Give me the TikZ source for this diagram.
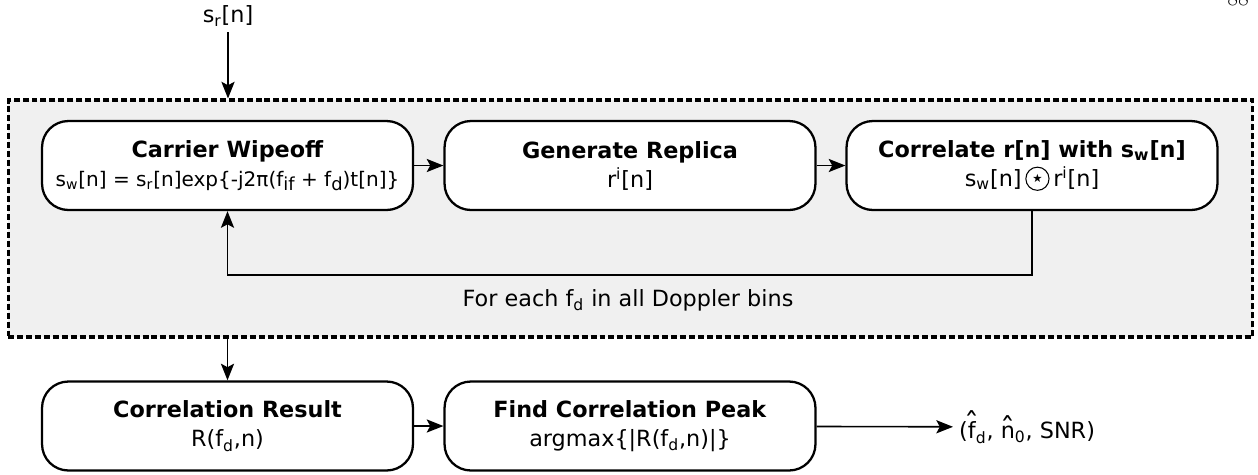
\documentclass[tikz,border=0pt]{standalone}
\usepackage{fontspec}
\setsansfont{DejaVu Sans}
\usetikzlibrary{arrows.meta}
\definecolor{loopgray}{RGB}{240,240,240}
\tikzset{
	block/.style={draw, line width=1.3pt, rounded corners=15pt, fill=white, align=center,
		minimum width=7.42cm, minimum height=1.78cm, inner sep=2pt,
		font=\sffamily\fontsize{12.7}{16.5}\selectfont},
	loopbox/.style={draw, fill=loopgray, line width=1.8pt, dash pattern=on 3.4pt off 1.7pt,
		minimum width=24.9cm, minimum height=4.74cm},
	flow/.style={line width=0.9pt, -{Stealth[length=9.5pt,width=7.5pt,inset=2pt]}},
	lbl/.style={font=\sffamily\fontsize{12.7}{16.5}\selectfont}
}
\newcommand{\hd}[1]{\textbf{#1}}
\newcommand{\lowsub}[1]{\raisebox{-0.4ex}{\fontsize{10.2}{10.2}\selectfont #1}}
\newcommand{\hatc}[2]{{\setbox0\hbox{#2}\rlap{\hbox to \wd0{\hss\raisebox{#1}{\fontsize{17}{17}\selectfont ˆ}\hss}}\box0}}
\newcommand{\corrop}{\tikz[baseline=-0.6ex,x=1cm,y=1cm]{\draw[line width=0.6pt,rounded corners=0pt] (0,0) circle (0.95ex);
	\node[inner sep=0pt,minimum width=0pt,minimum height=0pt,draw=none,fill=none,font=\fontsize{6.5}{6.5}\selectfont] at (0,0) {★};}}

\begin{document}
\begin{tikzpicture}[x=0.02cm,y=-0.02cm]
	\useasboundingbox (0,0) rectangle (1258,474);
	% acquisition loop over the Doppler bins
	\node[loopbox] (loop) at (630.5,218.5) {};
	\node[lbl] (sr) at (228,16) {s\textsubscript{r}[n]};
	\node[block] (cw) at (227.5,165.5) {\hd{Carrier Wipeoff}\\{\fontsize{11.4}{16.5}\selectfont s\textsubscript{w}[n] = s\textsubscript{r}[n]exp\{-j2π(f\lowsub{if} + f\lowsub{d})t[n]\}}};
	\node[block] (gr) at (630,165.5) {\hd{Generate Replica}\\r\textsuperscript{i}[n]};
	\node[block] (cor) at (1032,165.5) {\hd{Correlate r[n] with s\textsubscript{w}[n]}\\s\textsubscript{w}[n]\,\corrop\,r\textsuperscript{i}[n]};
	\node[lbl] (fbl) at (628,300) {For each f\textsubscript{d} in all Doppler bins};
	% results
	\node[block] (res) at (227.5,426) {\hd{Correlation Result}\\R(f\textsubscript{d},n)};
	\node[block] (peak) at (630,426) {\hd{Find Correlation Peak}\\argmax\{|R(f\textsubscript{d},n)|\}};
	\node[lbl,anchor=west] (out) at (953,427) {(\hatc{0.18em}{f}\textsubscript{d}, \hatc{-0.05em}{n}\textsubscript{0}, SNR)};
	\node[font=\rmfamily\fontsize{12.5}{14}\selectfont,anchor=base] (pg) at (1238,5) {88};

	\draw[flow] (sr) -- (sr |- loop.north);
	\foreach \a/\b in {cw/gr,gr/cor,res/peak,peak/out}
		\draw[flow] (\a) -- (\b);
	\draw[flow] (cor.south) -- (cor.south |- 0,275) -| (cw.south);
	\draw[flow] (loop.south -| res.north) -- (res.north);
\end{tikzpicture}
\end{document}
